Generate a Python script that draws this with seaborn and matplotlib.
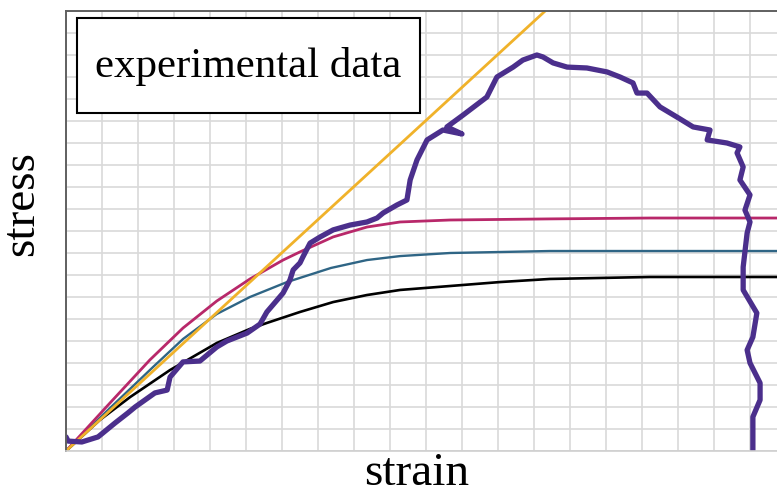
import numpy as np
import pandas as pd
import matplotlib
matplotlib.use("Agg")
import matplotlib.pyplot as plt
from matplotlib.patches import Rectangle
import seaborn as sns

# Vrednosti ocitane sa slike (jedinice = jedno polje mreze)
exp_strain = [0.00, 0.06, 0.44, 0.89, 1.36, 1.72, 1.92, 2.47, 2.81, 2.89, 3.25, 3.72, 4.19,
              4.47, 5.03, 5.39, 5.58, 6.03, 6.22, 6.31, 6.50, 6.58, 6.78, 7.06, 7.42, 7.89, 8.36,
              8.64, 8.81, 9.19, 9.47, 9.56, 9.75, 10.03, 10.47, 11.00, 10.58, 11.03, 11.69, 11.97,
              12.42, 12.69, 13.08, 13.25, 13.53, 13.92, 14.47, 15.03, 15.39, 15.75, 15.86, 16.14,
              16.50, 16.97, 17.42, 17.89, 17.81, 18.36, 18.72, 18.64, 18.81, 18.72, 19.00, 18.86,
              19.00, 18.92, 18.81, 18.81, 19.19, 19.08, 18.92, 19.00, 19.28, 19.28, 19.08, 19.08]
exp_stress = [0.64, 0.45, 0.41, 0.64, 1.27, 1.73, 2.00, 2.64, 2.77, 3.36, 4.05, 4.09, 4.73,
              5.00, 5.36, 5.77, 6.32, 7.18, 7.77, 8.23, 8.55, 8.82, 9.45, 9.73, 10.05, 10.27, 10.41,
              10.59, 10.82, 11.18, 11.41, 12.32, 13.23, 14.14, 14.59, 14.41, 14.73, 15.27, 16.09, 17.00,
              17.45, 17.77, 18.00, 17.91, 17.64, 17.45, 17.41, 17.23, 17.00, 16.73, 16.27, 16.27,
              15.64, 15.18, 14.73, 14.59, 14.14, 14.00, 13.82, 13.55, 12.91, 12.32, 11.64, 10.95,
              10.41, 9.91, 8.36, 7.32, 6.27, 5.18, 4.59, 4.00, 3.09, 2.32, 1.55, 0.00]

magenta_strain = [0, 1.22, 2.33, 3.25, 4.19, 5.11, 6.03, 6.5, 7.42, 8.36, 9.28, 10.67, 13.44, 16.22, 19.75]
magenta_stress = [0, 2.18, 4.14, 5.59, 6.82, 7.82, 8.68, 9.05, 9.73, 10.18, 10.41, 10.5, 10.55, 10.59, 10.59]

teal_strain = [0, 1.22, 2.42, 3.25, 4.19, 5.11, 6.14, 7.36, 8.36, 9.28, 10.67, 13.44, 19.75]
teal_stress = [0, 1.95, 3.82, 5.09, 6.23, 7.0, 7.68, 8.32, 8.68, 8.86, 9.0, 9.09, 9.09]

black_strain = [0, 0.94, 1.78, 2.89, 4.19, 5.11, 5.58, 6.5, 7.42, 8.36, 9.28, 10.67, 12.06, 13.44, 16.22, 19.75]
black_stress = [0, 1.41, 2.45, 3.68, 4.91, 5.55, 5.82, 6.32, 6.77, 7.09, 7.32, 7.5, 7.68, 7.82, 7.91, 7.91]

elastic_strain = [0, 13.31]
elastic_stress = [0, 20]

sns.set_style("white")

fig = plt.figure(figsize=(7.77, 4.96), dpi=100)
ax = fig.add_axes([66 / 777, 45 / 496, 711 / 777, 440 / 496])

sns.lineplot(x=black_strain, y=black_stress, color="black", lw=1.9, ax=ax)
sns.lineplot(x=teal_strain, y=teal_stress, color="#2f6585", lw=1.7, ax=ax)
sns.lineplot(x=magenta_strain, y=magenta_stress, color="#b8286a", lw=2.0, ax=ax)
sns.lineplot(x=elastic_strain, y=elastic_stress, color="#f0b22a", lw=2.0, ax=ax)
sns.lineplot(x=exp_strain, y=exp_stress, sort=False, estimator=None, color="#4b2f8c",
             lw=3.8, ax=ax, solid_joinstyle="round", solid_capstyle="round")

ax.set_xlim(0, 19.75)
ax.set_ylim(0, 20)
ax.set_xticks(np.arange(0, 20, 1))
ax.set_yticks(np.arange(0, 21, 1))
ax.set_xticklabels([])
ax.set_yticklabels([])
ax.grid(True, color="#d9d9d9", lw=1.2)
ax.set_axisbelow(True)
ax.tick_params(axis="x", length=0)
ax.tick_params(axis="y", length=3, color="#9a9a9a", width=1)
ax.set_xlabel("")
ax.set_ylabel("")

for side in ["left", "top"]:
    ax.spines[side].set_color("#606060")
    ax.spines[side].set_linewidth(1.4)
ax.spines["bottom"].set_color("#cfcfcf")
ax.spines["bottom"].set_linewidth(1.2)
ax.spines["right"].set_visible(False)

# okvir sa natpisom
ax.add_patch(Rectangle((11 / 711, 338 / 440), 343 / 711, 95 / 440, transform=ax.transAxes,
                       facecolor="white", edgecolor="black", lw=1.5, zorder=5))
ax.text(182 / 711, 384 / 440, "experimental data", transform=ax.transAxes, ha="center",
        va="center", fontsize=31, family="Liberation Serif", color="black", zorder=6)

fig.text(417 / 777, 1 - 474 / 496, "strain", ha="center", va="center", fontsize=34,
         family="Liberation Serif", color="black")
fig.text(22 / 777, 1 - 203 / 496, "stress", ha="center", va="center", rotation=90,
         fontsize=34, family="Liberation Serif", color="black")

fig.savefig("out.png", dpi=100)
